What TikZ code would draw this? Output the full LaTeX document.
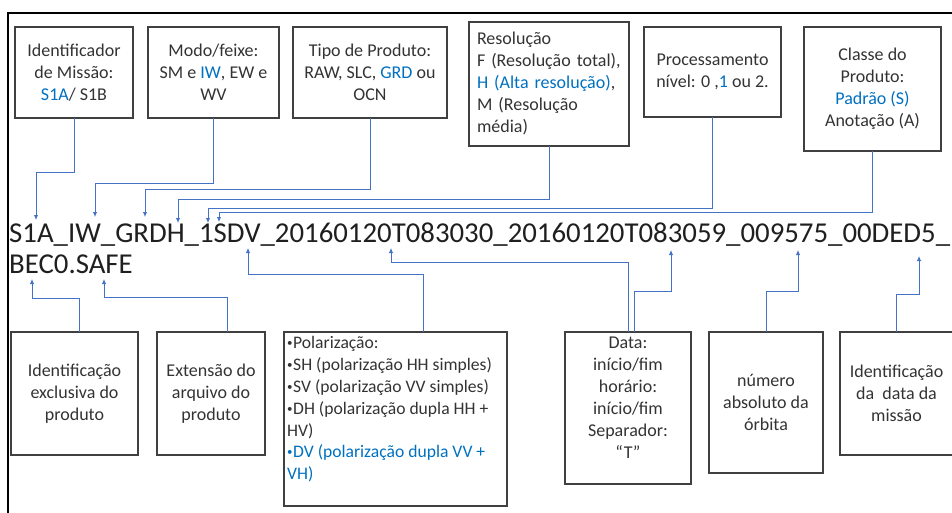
\documentclass[tikz,border=0pt]{standalone}
\usepackage{fontspec}
\setmainfont{Carlito}
\usetikzlibrary{arrows.meta}
\definecolor{conn}{HTML}{4472C4}
\definecolor{hl}{HTML}{0070C0}
\definecolor{txt}{HTML}{333333}
\definecolor{bord}{HTML}{404040}
\newcommand{\smbul}{{\fontsize{11}{11}\selectfont\raisebox{2.2pt}{•}}\hspace{0.5pt}}
\begin{document}
\begin{tikzpicture}[x=1pt,y=-1pt,
  box/.style={draw=bord, line width=1.1pt, text=txt, font=\fontsize{18}{22}\selectfont, align=center, inner sep=0pt, outer sep=0pt},
  link/.style={draw=conn, line width=0.9pt, -{Latex[length=5pt,width=4.5pt]}},
  fname/.style={anchor=base west, inner sep=0pt, text=black!88, font=\fontsize{28.8}{31.5}\selectfont},
  inner/.style={inner sep=0pt, text=txt, font=\fontsize{18}{22}\selectfont}]
\useasboundingbox (0,0) rectangle (952,513);
% outer frame
\draw[line width=2pt, black] (8,530) -- (8,13) -- (970,13);

% file name
\node[fname] (n1) at (9,242) {S1A\_IW\_GRDH\_1SDV\_20160120T083030\_20160120T083059\_009575\_00DED5\_};
\node[fname] (n2) at (9,273) {BEC0.SAFE};

% top boxes
\node[box, minimum width=118pt, minimum height=91pt] (t1) at (74,72.5) {Identificador\\de Missão:\\\textcolor{hl}{S1A}/ S1B};
\node[box, minimum width=131pt, minimum height=91pt] (t2) at (213.5,72.5) {Modo/feixe:\\SM e \textcolor{hl}{IW}, EW e\\WV};
\node[box, minimum width=154pt, minimum height=91pt] (t3) at (370,72.5) {Tipo de Produto:\\RAW, SLC, \textcolor{hl}{GRD} ou\\OCN};
\node[box, align=left, text width=144pt, inner xsep=8pt, minimum height=124pt] (t4) at (549,84) {Resolução\\F (Resolução total),\\\textcolor{hl}{H (Alta resolução)},\\M (Resolução\\média)};
\node[box, minimum width=137pt, minimum height=90pt] (t5) at (712.5,72) {Processamento\\nível: 0 ,\textcolor{hl}{1} ou 2.};
\node[box, minimum width=137pt, minimum height=124pt] (t6) at (872.5,89) {Classe do\\Produto:\\\textcolor{hl}{Padrão (S)}\\Anotação (A)};

% bottom boxes
\node[box, minimum width=127pt, minimum height=123pt] (b1) at (74.5,393.5) {Identificação\\exclusiva do\\produto};
\node[box, minimum width=108pt, minimum height=123pt] (b2) at (211,393.5) {Extensão do\\arquivo do\\produto};
\node[box, minimum width=223pt, minimum height=174pt] (b3) at (395.5,419) {};
\node[inner, anchor=north west, align=left, font=\fontsize{17.6}{21.8}\selectfont] (p3) at (287,336.5) {\smbul Polarização:\\\smbul SH (polarização HH simples)\\\smbul SV (polarização VV simples)\\\smbul DH (polarização dupla HH +\\HV)\\\textcolor{hl}{\smbul DV (polarização dupla VV +}\\\textcolor{hl}{VH)}};
\node[box, minimum width=126pt, minimum height=152pt] (b4) at (628,408) {};
\node[inner, anchor=north, align=center] (p4) at (628,336.4) {Data:\\início/fim\\horário:\\início/fim\\Separador:\\“T”};
\node[box, minimum width=114pt, minimum height=141pt] (b5) at (766,402.5) {número\\absoluto da\\órbita};
\node[box, minimum width=113pt, minimum height=123pt] (b6) at (896.5,393.5) {Identificação\\da~ data da\\missão};

% arrow tips on the file name
\coordinate (a1) at (36,220);
\coordinate (a2) at (95,217);
\coordinate (a3) at (145,217);
\coordinate (a4) at (178,223);
\coordinate (a5) at (208,223);
\coordinate (a6) at (219,222);
\coordinate (c1) at (32,279);
\coordinate (c2) at (104,279);
\coordinate (c3) at (248,248);
\coordinate (c4) at (391,248);
\coordinate (c5) at (671,250);
\coordinate (c6) at (798,250);
\coordinate (c7) at (919,256);

% top connectors
\draw[link] (t1.south) -- ++(0,54) -| (a1);
\draw[link] (t2.south) -- ++(0,65) -| (a2);
\draw[link] (t3.south) -- ++(0,71) -| (a3);
\draw[link] (t4.south) -- ++(0,53) -| (a4);
\draw[link] (t5.south) -- ++(0,91) -| (a5);
\draw[link] (t6.south) -- ++(0,61) -| (a6);

% bottom connectors
\draw[link] ([xshift=5pt]b1.north) -- ++(0,-34) -| (c1);
\draw[link] ([xshift=16pt]b2.north) -- ++(0,-35) -| (c2);
\draw[link] ([xshift=28pt]b3.north) -- ++(0,-58) -| (c3);
\draw[link] (b4.north) -- ++(0,-70) -| (c4);
\draw[link] ([xshift=6pt]b4.north) -- ++(0,-41) -| (c5);
\draw[link] (b5.north) -- ++(0,-41) -| (c6);
\draw[link] (b6.north) -- ++(0,-38) -| (c7);
\end{tikzpicture}
\end{document}
